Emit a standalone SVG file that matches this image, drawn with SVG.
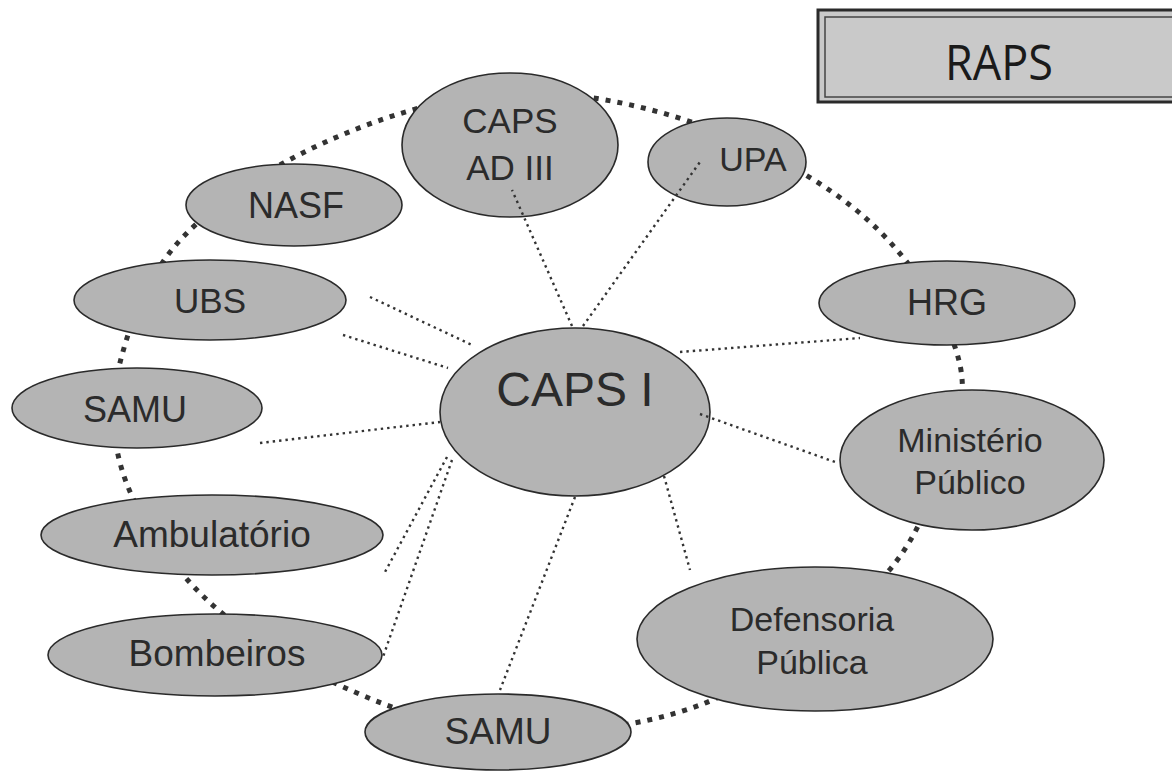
<svg xmlns="http://www.w3.org/2000/svg" width="1172" height="771" viewBox="0 0 1172 771">
<style>
.node ellipse{fill:#b4b4b4;stroke:#2a2a2a;stroke-width:1.6}
.node text{font-family:"Liberation Sans",Arial,sans-serif;fill:#2b2b2b;text-anchor:middle}
.ring{fill:none;stroke:#333;stroke-width:5;stroke-dasharray:5 7}
.link{fill:none;stroke:#333;stroke-width:2.4;stroke-dasharray:2.4 4}
</style>
<rect width="1172" height="771" fill="#ffffff"/>
<g id="title">
<rect x="818" y="10" width="360" height="92" fill="#c9c9c9" stroke="#2a2a2a" stroke-width="3"/>
<rect x="825" y="17" width="360" height="80" fill="none" stroke="#444" stroke-width="1.5"/>
<text x="999" y="80" font-family="'Open Sans',sans-serif" font-size="50" fill="#1a1a1a" text-anchor="middle" textLength="108" lengthAdjust="spacingAndGlyphs">RAPS</text>
</g>
<g id="ring">
<path class="ring" d="M510,93 C571.7,90.5 640,103.5 700,125 C760,146.5 826.7,182 870,222 C913.3,262 950,318.7 960,365 C970,411.3 946.7,460.8 930,500 C913.3,539.2 898.3,565.8 860,600 C821.7,634.2 758.3,683 700,705 C641.7,727 568.3,734.5 510,732 C451.7,729.5 400.8,712.3 350,690 C299.2,667.7 243.3,634.7 205,598 C166.7,561.3 134.2,510.5 122,470 C109.8,429.5 111.2,394.2 122,355 C132.8,315.8 150,270.8 185,235 C220,199.2 275.8,163.7 330,140 C384.2,116.3 448.3,95.5 510,93 Z"/>
</g>
<g id="n-capsad" class="node"><ellipse cx="510" cy="145" rx="108" ry="72"/><text x="510" y="133" font-size="35">CAPS</text><text x="510" y="180" font-size="35">AD III</text></g>
<g id="n-upa" class="node"><ellipse cx="727" cy="162" rx="79" ry="44"/><text x="753" y="171" font-size="34">UPA</text></g>
<g id="n-nasf" class="node"><ellipse cx="294" cy="205" rx="108" ry="41"/><text x="296" y="218" font-size="36">NASF</text></g>
<g id="n-ubs" class="node"><ellipse cx="210" cy="300" rx="136" ry="40"/><text x="210" y="313" font-size="35">UBS</text></g>
<g id="n-samu1" class="node"><ellipse cx="137" cy="408" rx="125" ry="40"/><text x="135" y="422" font-size="36">SAMU</text></g>
<g id="n-amb" class="node"><ellipse cx="212" cy="535" rx="171" ry="40"/><text x="212" y="547" font-size="37">Ambulatório</text></g>
<g id="n-bomb" class="node"><ellipse cx="215" cy="655" rx="167" ry="41"/><text x="217" y="666" font-size="37">Bombeiros</text></g>
<g id="n-samu2" class="node"><ellipse cx="498" cy="732" rx="133" ry="38"/><text x="498" y="744" font-size="37">SAMU</text></g>
<g id="n-def" class="node"><ellipse cx="815" cy="639" rx="178" ry="72"/><text x="812" y="631" font-size="34">Defensoria</text><text x="812" y="674" font-size="34">Pública</text></g>
<g id="n-min" class="node"><ellipse cx="972" cy="460" rx="132" ry="70"/><text x="970" y="452" font-size="34">Ministério</text><text x="970" y="494" font-size="34">Público</text></g>
<g id="n-hrg" class="node"><ellipse cx="947" cy="303" rx="128" ry="42"/><text x="947" y="315" font-size="36">HRG</text></g>
<g id="n-capsi" class="node"><ellipse cx="575" cy="412" rx="135" ry="84"/><text x="575" y="406" font-size="48">CAPS I</text></g>
<g id="connectors">
<line class="link" x1="572" y1="326" x2="512" y2="190"/>
<line class="link" x1="583" y1="326" x2="700" y2="162"/>
<line class="link" x1="370" y1="297" x2="472" y2="345"/>
<line class="link" x1="343" y1="335" x2="448" y2="368"/>
<line class="link" x1="260" y1="443" x2="440" y2="422"/>
<line class="link" x1="447" y1="457" x2="385" y2="572"/>
<line class="link" x1="452" y1="460" x2="383" y2="657"/>
<line class="link" x1="575" y1="497" x2="500" y2="690"/>
<line class="link" x1="664" y1="476" x2="690" y2="570"/>
<line class="link" x1="700" y1="414" x2="835" y2="462"/>
<line class="link" x1="680" y1="352" x2="860" y2="338"/>
</g>
</svg>
